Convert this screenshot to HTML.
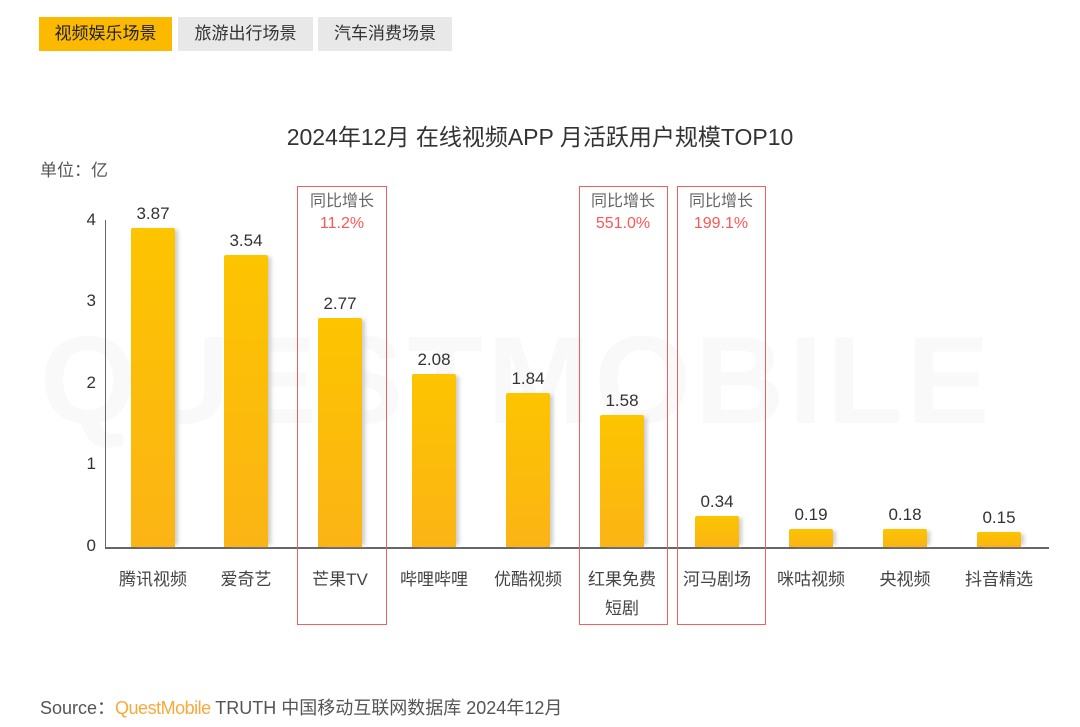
<!DOCTYPE html><html><head><meta charset="utf-8"><style>
body{margin:0;width:1080px;height:727px;background:#fff;position:relative;overflow:hidden;font-family:"Liberation Sans","Noto Sans CJK SC",sans-serif;}
.a{position:absolute;white-space:nowrap}
.tab{position:absolute;top:17px;height:34px;line-height:34px;text-align:center;font-size:17px;color:#333;background:#e8e8e8}
.bar{position:absolute;width:44px;background:linear-gradient(#fdc400,#fbb415);box-shadow:5px 0 4px -2px #ccc;border-radius:2px 2px 0 0}
.v{position:absolute;width:100px;text-align:center;font-size:17px;color:#333}
.c{position:absolute;width:100px;text-align:center;font-size:17px;color:#444;top:565px;line-height:29px}
.box{position:absolute;top:186px;height:439px;border:1.5px solid #f06060;box-sizing:border-box}
.g{position:absolute;width:100px;text-align:center;font-size:16px;color:#666;top:191px;line-height:22px}
.g span{color:#f55}
.t{position:absolute;left:76px;width:20px;text-align:right;font-size:17px;color:#333}
</style></head><body>
<div class="tab" style="left:39px;width:133px;background:#fbb900;color:#222">视频娱乐场景</div>
<div class="tab" style="left:178px;width:135px">旅游出行场景</div>
<div class="tab" style="left:318px;width:134px">汽车消费场景</div>
<div class="a" style="left:40px;top:310px;font-size:124px;color:#f9f9f9;font-weight:bold;letter-spacing:4px">QUESTMOBILE</div>
<div class="a" style="left:0;width:1080px;text-align:center;top:118px;font-size:23px;color:#333">2024年12月 在线视频APP 月活跃用户规模TOP10</div>
<div class="a" style="left:40px;top:156px;font-size:17px;color:#555">单位：亿</div>
<div class="t" style="top:210px">4</div><div class="t" style="top:291px">3</div><div class="t" style="top:373px">2</div><div class="t" style="top:454px">1</div><div class="t" style="top:536px">0</div>
<div class="a" style="left:105px;top:220px;width:1px;height:328px;background:#666"></div>
<div class="a" style="left:105px;top:547px;width:944px;height:1.5px;background:#666"></div>
<div class="box" style="left:297px;width:90px"></div>
<div class="box" style="left:579px;width:89px"></div>
<div class="box" style="left:677px;width:89px"></div>
<div class="g" style="left:292px">同比增长<br><span>11.2%</span></div>
<div class="g" style="left:573px">同比增长<br><span>551.0%</span></div>
<div class="g" style="left:671px">同比增长<br><span>199.1%</span></div>
<div class="bar" style="left:131px;top:228px;height:319px"></div><div class="v" style="left:103px;top:204px">3.87</div><div class="c" style="left:103px">腾讯视频</div>
<div class="bar" style="left:224px;top:255px;height:292px"></div><div class="v" style="left:196px;top:231px">3.54</div><div class="c" style="left:196px">爱奇艺</div>
<div class="bar" style="left:318px;top:318px;height:229px"></div><div class="v" style="left:290px;top:294px">2.77</div><div class="c" style="left:290px">芒果TV</div>
<div class="bar" style="left:412px;top:374px;height:173px"></div><div class="v" style="left:384px;top:350px">2.08</div><div class="c" style="left:384px">哔哩哔哩</div>
<div class="bar" style="left:506px;top:393px;height:154px"></div><div class="v" style="left:478px;top:369px">1.84</div><div class="c" style="left:478px">优酷视频</div>
<div class="bar" style="left:600px;top:415px;height:132px"></div><div class="v" style="left:572px;top:391px">1.58</div><div class="c" style="left:572px">红果免费<br>短剧</div>
<div class="bar" style="left:695px;top:516px;height:31px"></div><div class="v" style="left:667px;top:492px">0.34</div><div class="c" style="left:667px">河马剧场</div>
<div class="bar" style="left:789px;top:529px;height:18px"></div><div class="v" style="left:761px;top:505px">0.19</div><div class="c" style="left:761px">咪咕视频</div>
<div class="bar" style="left:883px;top:529px;height:18px"></div><div class="v" style="left:855px;top:505px">0.18</div><div class="c" style="left:855px">央视频</div>
<div class="bar" style="left:977px;top:532px;height:15px"></div><div class="v" style="left:949px;top:508px">0.15</div><div class="c" style="left:949px">抖音精选</div>
<div class="a" style="left:40px;top:694px;font-size:18px;color:#555">Source：<span style="color:#f9a93a;letter-spacing:-0.5px">QuestMobile</span> TRUTH 中国移动互联网数据库 2024年12月</div>
</body></html>
